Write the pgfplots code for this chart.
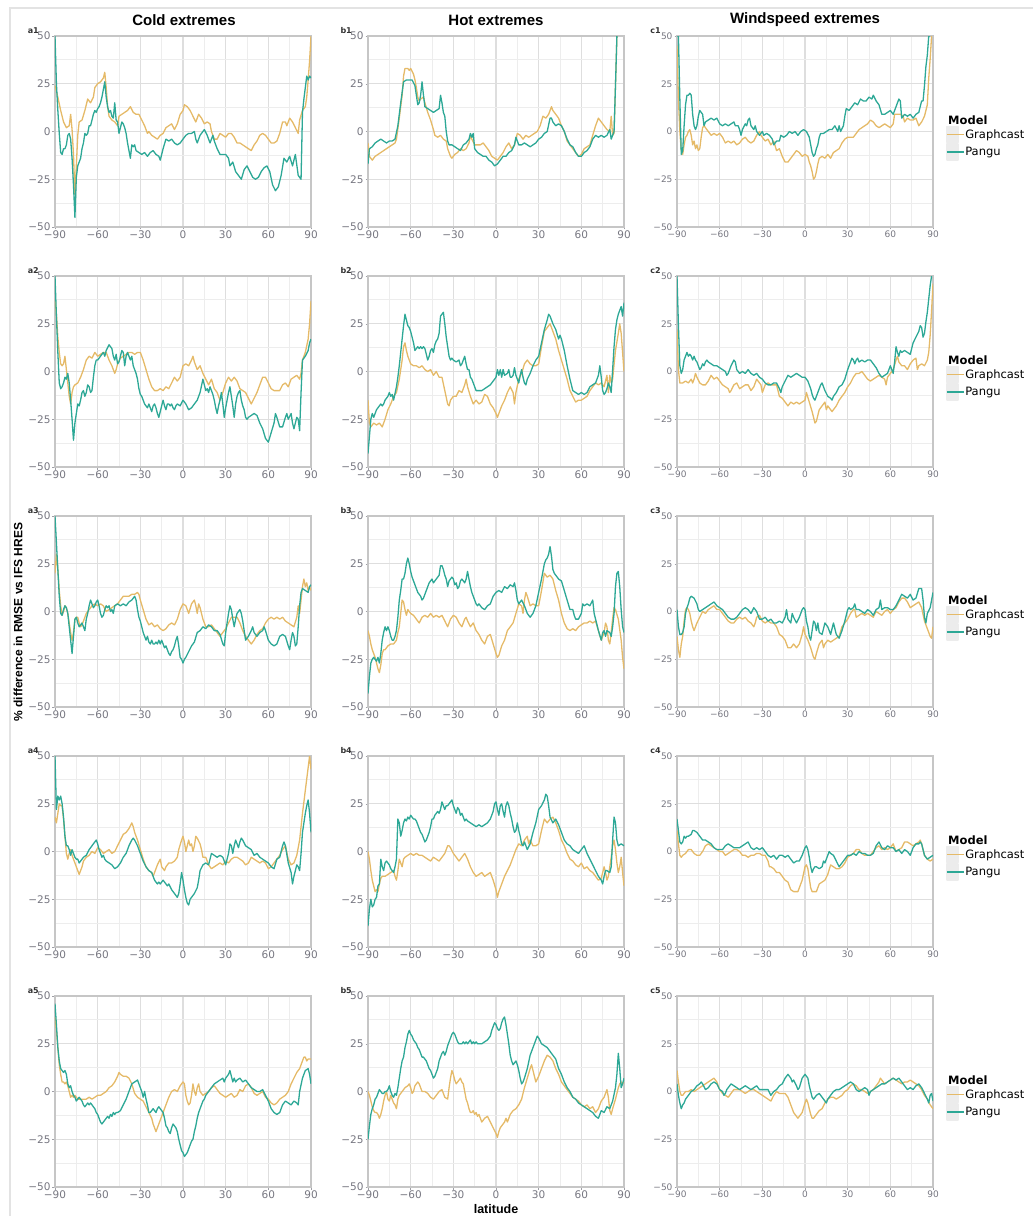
\documentclass[border=0pt]{standalone}
\usepackage{fontspec}
\setmainfont{DejaVu Sans}
\newfontfamily\arial{Liberation Sans}
\usepackage{pgfplots}
\pgfplotsset{compat=1.18}

\definecolor{gc}{RGB}{229,186,104}
\definecolor{pg}{RGB}{45,168,150}
\definecolor{gridmaj}{RGB}{222,222,222}
\definecolor{gridmin}{RGB}{237,237,237}
\definecolor{framec}{RGB}{198,198,198}
\definecolor{ticklab}{RGB}{118,118,128}
\definecolor{legbox}{RGB}{236,236,236}

\tikzset{
  plab/.style={anchor=south east, xshift=-16pt, yshift=2pt, inner sep=0pt,
    text=black!80, font=\bfseries\fontsize{8}{9}\selectfont},
  modeltitle/.style={anchor=west, xshift=15pt, inner sep=0pt,
    font=\bfseries\fontsize{11.5}{12}\selectfont},
}

\pgfplotsset{
  panel/.style={
    anchor=north west, scale only axis, width=256pt, height=191pt,
    xmin=-90, xmax=90, ymin=-50, ymax=50,
    xtick={-90,-60,-30,0,30,60,90}, ytick={-50,-25,0,25,50},
    xticklabels={−90,−60,−30,0,30,60,90},
    yticklabels={−50,−25,0,25,50},
    minor xtick={-75,-45,-15,15,45,75},
    minor ytick={-37.5,-12.5,12.5,37.5},
    grid=both,
    major grid style={draw=gridmaj, line width=1.1pt},
    minor grid style={draw=gridmin, line width=0.9pt},
    axis line style={draw=framec, line width=1.3pt},
    tick pos=left, tick align=outside,
    major tick length=2.5pt, minor tick length=0pt,
    major tick style={draw=ticklab!70, line width=0.5pt},
    tick label style={text=ticklab, font=\fontsize{10.5}{11}\selectfont},
    xticklabel style={yshift=2.5pt},
    yticklabel style={xshift=1.5pt},
    clip mode=individual,
    every axis plot/.append style={line width=1.3pt, line join=round, mark=none},
  },
  colc/.style={
    tick label style={font=\fontsize{9}{10}\selectfont},
    legend style={at={(axis description cs:1,0.53)}, anchor=north west,
      xshift=13pt, draw=none, fill=none, inner sep=0pt,
      font=\fontsize{11.5}{12}\selectfont, row sep=0pt,
      nodes={inner sep=0.8pt}},
    legend cell align=left,
    legend image code/.code={
      \fill[legbox] (0pt,-8pt) rectangle (11pt,8pt);
      \draw[##1, line width=1.3pt] (0pt,0pt) -- (17pt,0pt);},
  },
  gcline/.style={color=gc},
  pgline/.style={color=pg},
}

\begin{document}
\begin{tikzpicture}
\path[use as bounding box] (0pt,0pt) rectangle (1033pt,-1216pt);
\draw[gray!22, line width=1.6pt] (10pt,-1216pt) -- (10pt,-8pt) -- (1033pt,-8pt);

\node[font=\arial\bfseries\fontsize{15}{17}\selectfont] at (184pt,-20pt) {Cold extremes};
\node[font=\arial\bfseries\fontsize{15}{17}\selectfont] at (496pt,-20pt) {Hot extremes};
\node[font=\arial\bfseries\fontsize{15}{17}\selectfont] at (805pt,-20pt) {Windspeed extremes};
\node[rotate=90, font=\arial\bfseries\fontsize{12}{14}\selectfont] at (18pt,-622pt) {\% difference in RMSE vs IFS HRES};
\node[font=\arial\bfseries\fontsize{12.5}{14}\selectfont] at (496pt,-1209pt) {latitude};

% ---------------- row 1 ----------------
\begin{axis}[panel, at={(55pt,-36pt)}]
\addplot[gcline] coordinates {(-90,24)(-88,18)(-86,11)(-84,5)(-82,2)(-80,3)(-79,9)(-78,1)(-77,-12)(-76,-33)(-75,-18)(-74,-2)(-73,5)(-71,6)(-69,11)(-67,17)(-65,15)(-63,18)(-62,23)(-60,25)(-58,26)(-56,28)(-55,31)(-54,23)(-53,13)(-52,8)(-50,6)(-48,5)(-46,3)(-45,8)(-43,9)(-41,10)(-39,11)(-37,13)(-35,10)(-33,9)(-31,9)(-29,6)(-27,3)(-25,-1)(-24,0)(-22,-2)(-20,-3)(-18,-4)(-16,-2)(-14,-1)(-12,2)(-10,3)(-8,4)(-6,1)(-4,4)(-2,9)(0,11)(1,14)(3,13)(5,11)(7,8)(9,5)(11,9)(13,7)(15,4)(17,5)(19,4)(20,0)(22,-4)(24,-4)(26,-1)(28,-2)(30,-3)(32,-1)(34,-1)(36,-3)(38,-6)(40,-6)(42,-7)(44,-8)(46,-9)(48,-10)(50,-7)(52,-5)(54,-2)(56,-1)(58,-2)(60,-4)(62,-6)(64,-6)(66,-5)(68,-1)(70,5)(72,5)(73,3)(75,7)(77,5)(79,2)(81,-1)(82,6)(84,11)(86,13)(87,18)(88,27)(89,37)(90,50)};
\addplot[pgline] coordinates {(-90,50)(-89,25)(-88,11)(-87,-1)(-86,-11)(-85,-12)(-84,-9)(-83,-9)(-82,-7)(-81,-2)(-80,-1)(-79,-4)(-78,-14)(-77,-28)(-76,-45)(-75,-24)(-74,-18)(-73,-16)(-72,-14)(-71,-9)(-70,-6)(-69,-1)(-68,-2)(-67,-1)(-66,3)(-65,3)(-64,6)(-63,9)(-62,11)(-61,10)(-60,12)(-59,13)(-58,15)(-57,18)(-56,22)(-55,26)(-54,18)(-53,13)(-52,10)(-51,11)(-50,8)(-49,7)(-48,15)(-47,6)(-46,5)(-45,-1)(-44,2)(-43,5)(-42,4)(-41,2)(-40,-1)(-39,-6)(-38,-10)(-37,-14)(-36,-7)(-35,-8)(-34,-7)(-33,-10)(-31,-11)(-29,-12)(-27,-11)(-25,-13)(-23,-11)(-21,-10)(-19,-12)(-17,-13)(-16,-15)(-14,-9)(-12,-4)(-10,-5)(-8,-4)(-6,-6)(-4,-7)(-2,-6)(0,-4)(2,-2)(4,-1)(6,-1)(8,0)(9,-4)(10,-6)(12,-2)(14,0)(15,1)(17,-2)(19,-6)(21,-2)(22,-5)(24,-9)(26,-12)(28,-12)(30,-12)(32,-14)(33,-18)(35,-16)(37,-21)(39,-23)(41,-25)(43,-20)(45,-18)(47,-21)(49,-24)(51,-25)(53,-24)(55,-21)(57,-19)(59,-18)(61,-21)(63,-28)(65,-31)(67,-29)(69,-23)(71,-14)(73,-16)(75,-13)(77,-18)(79,-12)(81,-23)(83,-25)(84,10)(85,17)(87,29)(88,27)(89,29)(90,28)};
\node[plab] at (rel axis cs:0,1) {a1};
\end{axis}

\begin{axis}[panel, at={(368pt,-36pt)}]
\addplot[gcline] coordinates {(-90,-6)(-89,-13)(-87,-15)(-85,-13)(-83,-12)(-81,-11)(-79,-10)(-77,-9)(-75,-8)(-73,-7)(-71,-6)(-70,-4)(-68,7)(-66,19)(-65,29)(-64,33)(-62,33)(-61,32)(-60,33)(-58,30)(-57,27)(-56,23)(-55,18)(-54,16)(-53,17)(-51,18)(-50,15)(-48,10)(-46,6)(-44,1)(-43,-2)(-41,-3)(-39,-2)(-37,-4)(-35,-5)(-34,-9)(-32,-13)(-31,-14)(-29,-12)(-27,-11)(-25,-9)(-23,-10)(-21,-9)(-19,-6)(-18,-2)(-17,-4)(-15,-7)(-13,-7)(-11,-7)(-9,-6)(-7,-8)(-5,-10)(-3,-13)(-1,-14)(1,-15)(3,-13)(5,-11)(7,-8)(9,-6)(11,-9)(13,-7)(15,-1)(17,-2)(19,-4)(21,-2)(23,-3)(25,-2)(27,-1)(29,0)(31,3)(33,8)(35,7)(37,9)(39,13)(40,11)(42,9)(44,7)(46,3)(48,0)(50,-5)(52,-7)(54,-9)(56,-11)(58,-13)(60,-12)(62,-9)(64,-8)(66,-7)(68,-2)(70,3)(72,7)(74,5)(76,3)(78,1)(80,0)(81,8)(82,-2)(83,-1)(84,24)(85,50)};
\addplot[pgline] coordinates {(-90,-17)(-89,-9)(-87,-8)(-85,-6)(-83,-5)(-81,-4)(-79,-5)(-77,-6)(-75,-5)(-73,-5)(-71,-4)(-69,3)(-67,15)(-65,26)(-63,27)(-61,27)(-59,27)(-57,24)(-56,19)(-55,14)(-54,15)(-53,19)(-52,26)(-51,19)(-50,13)(-48,12)(-46,11)(-44,10)(-42,11)(-40,12)(-39,19)(-38,15)(-37,10)(-36,8)(-35,0)(-34,-5)(-33,-7)(-31,-7)(-29,-8)(-27,-9)(-25,-10)(-23,-7)(-21,-6)(-19,-4)(-18,-1)(-17,-3)(-16,-1)(-15,-9)(-13,-11)(-11,-12)(-9,-13)(-7,-13)(-5,-15)(-3,-16)(-1,-18)(1,-17)(3,-15)(5,-13)(7,-13)(9,-11)(11,-10)(13,-7)(14,-3)(16,-7)(18,-7)(20,-6)(22,-7)(24,-8)(26,-7)(28,-6)(30,-4)(32,-3)(34,-1)(36,0)(38,7)(39,7)(40,5)(42,3)(44,4)(46,3)(48,0)(50,-4)(52,-7)(54,-8)(56,-11)(58,-13)(60,-13)(62,-11)(64,-10)(66,-8)(68,-4)(70,-2)(72,-3)(74,-2)(76,-3)(78,-2)(80,1)(81,-4)(82,-2)(83,0)(84,24)(85,50)};
\node[plab] at (rel axis cs:0,1) {b1};
\end{axis}

\begin{axis}[panel, colc, at={(677pt,-36pt)}]
\addplot[gcline] coordinates {(-90,45)(-89,17)(-88,0)(-87,-10)(-86,-12)(-85,-7)(-84,-3)(-83,-2)(-82,0)(-81,1)(-80,-2)(-79,-7)(-78,-5)(-77,-9)(-76,-7)(-75,-10)(-74,-9)(-73,-3)(-72,2)(-71,3)(-70,2)(-68,0)(-66,-2)(-64,-1)(-62,-2)(-60,-1)(-58,-3)(-56,-6)(-54,-5)(-52,-6)(-50,-5)(-48,-7)(-46,-6)(-44,-4)(-42,-3)(-40,-5)(-38,-6)(-36,-5)(-34,-2)(-32,0)(-31,-2)(-30,-3)(-28,-5)(-26,-4)(-24,-7)(-22,-5)(-20,-10)(-18,-9)(-16,-13)(-14,-16)(-12,-16)(-10,-14)(-8,-12)(-6,-10)(-4,-11)(-2,-13)(0,-12)(2,-13)(3,-16)(4,-18)(5,-21)(6,-25)(7,-24)(8,-21)(9,-17)(10,-14)(12,-13)(14,-14)(16,-12)(18,-14)(20,-11)(22,-10)(24,-9)(26,-6)(28,-4)(30,-3)(32,-3)(34,-3)(36,-1)(38,1)(40,2)(42,3)(44,4)(46,6)(48,5)(50,3)(52,2)(54,3)(56,4)(58,3)(60,2)(62,4)(63,9)(65,9)(67,9)(69,8)(70,5)(72,7)(74,6)(76,6)(78,7)(80,3)(82,5)(84,8)(86,14)(87,28)(88,38)(89,50)};
\addlegendentry{Graphcast}
\addplot[pgline] coordinates {(-90,50)(-89,50)(-88,17)(-87,-12)(-86,-10)(-85,3)(-84,14)(-83,19)(-82,19)(-81,20)(-80,19)(-79,9)(-78,3)(-77,1)(-76,3)(-75,8)(-74,11)(-73,10)(-72,9)(-71,3)(-70,5)(-68,6)(-66,7)(-64,6)(-62,7)(-60,4)(-58,3)(-56,4)(-54,3)(-52,4)(-50,5)(-49,3)(-47,3)(-46,1)(-45,-2)(-44,1)(-42,4)(-41,3)(-40,6)(-39,7)(-38,3)(-36,1)(-35,3)(-34,0)(-32,-2)(-30,0)(-29,-2)(-27,-1)(-25,-2)(-23,-4)(-22,-7)(-20,-5)(-18,-5)(-17,-2)(-15,-3)(-13,-2)(-11,0)(-9,-1)(-7,0)(-5,-2)(-3,0)(-1,1)(1,0)(3,-3)(4,-7)(5,-11)(6,-13)(7,-12)(8,-9)(9,-7)(10,-3)(11,-1)(13,-1)(15,0)(17,1)(19,1)(21,3)(23,0)(24,3)(25,0)(27,3)(28,8)(29,12)(31,11)(33,13)(35,15)(37,14)(39,17)(41,16)(43,16)(45,18)(47,17)(48,19)(50,16)(52,14)(54,9)(56,9)(58,10)(60,11)(62,9)(64,13)(66,17)(67,16)(68,7)(70,9)(72,8)(74,9)(76,7)(78,9)(80,10)(82,16)(83,16)(84,24)(85,34)(86,40)(87,50)(88,50)};
\addlegendentry{Pangu}
\node[plab] at (rel axis cs:0,1) {c1};
\node[modeltitle] at (axis description cs:1,0.56) {Model};
\end{axis}

% ---------------- row 2 ----------------
\begin{axis}[panel, at={(55pt,-276pt)}]
\addplot[gcline] coordinates {(-90,38)(-89,30)(-88,18)(-87,10)(-86,4)(-85,3)(-84,4)(-83,8)(-82,1)(-81,-6)(-80,-13)(-79,-17)(-78,-11)(-77,-8)(-76,-7)(-74,-6)(-72,-3)(-70,1)(-68,6)(-66,8)(-64,7)(-62,10)(-60,8)(-58,9)(-56,10)(-54,10)(-52,6)(-50,3)(-48,-1)(-47,1)(-46,4)(-44,7)(-42,8)(-40,9)(-38,10)(-36,10)(-34,9)(-32,10)(-30,10)(-28,6)(-26,1)(-24,-4)(-22,-8)(-20,-10)(-18,-10)(-16,-9)(-14,-10)(-12,-8)(-10,-9)(-8,-6)(-6,-3)(-4,-5)(-2,-3)(0,3)(2,4)(4,3)(6,6)(7,8)(8,5)(10,1)(12,3)(14,-1)(16,-4)(18,-7)(20,-4)(22,-9)(24,-11)(26,-15)(28,-11)(30,-6)(32,-3)(34,-5)(36,-3)(38,-5)(40,-9)(42,-10)(44,-11)(46,-14)(48,-17)(50,-14)(52,-11)(54,-7)(56,-3)(58,-3)(60,-6)(62,-9)(64,-10)(66,-10)(68,-10)(70,-7)(72,-6)(74,-8)(76,-4)(78,-3)(80,-2)(82,-4)(83,-1)(84,6)(86,10)(88,17)(89,25)(90,37)};
\addplot[pgline] coordinates {(-90,50)(-89,29)(-88,10)(-87,-6)(-86,-9)(-85,-8)(-84,-6)(-83,-3)(-82,-4)(-81,-1)(-80,-6)(-79,-15)(-78,-25)(-77,-36)(-76,-27)(-75,-22)(-74,-17)(-73,-18)(-72,-15)(-71,-11)(-70,-10)(-69,-13)(-68,-11)(-67,-7)(-66,-8)(-65,-11)(-64,-10)(-63,-3)(-62,3)(-61,6)(-60,6)(-58,8)(-56,10)(-55,8)(-54,11)(-52,14)(-50,12)(-49,8)(-48,6)(-47,9)(-46,4)(-45,5)(-44,8)(-43,11)(-42,10)(-41,3)(-40,8)(-39,10)(-38,8)(-37,6)(-36,8)(-35,3)(-34,1)(-33,-1)(-32,-4)(-31,-9)(-30,-12)(-29,-13)(-28,-15)(-27,-17)(-26,-18)(-25,-19)(-24,-17)(-23,-19)(-22,-21)(-21,-18)(-20,-17)(-19,-19)(-18,-22)(-17,-24)(-16,-21)(-15,-18)(-14,-15)(-13,-18)(-12,-20)(-11,-17)(-10,-17)(-9,-18)(-8,-17)(-7,-19)(-6,-20)(-5,-18)(-4,-17)(-2,-18)(0,-15)(2,-17)(4,-20)(6,-19)(8,-17)(10,-15)(12,-11)(14,-4)(15,-7)(16,-10)(17,-9)(18,-11)(19,-8)(20,-10)(21,-12)(22,-15)(23,-19)(24,-22)(25,-18)(26,-15)(27,-11)(28,-17)(29,-24)(30,-19)(31,-15)(32,-11)(33,-8)(34,-13)(35,-18)(36,-24)(37,-17)(38,-13)(39,-11)(40,-10)(41,-15)(42,-18)(43,-20)(44,-24)(45,-25)(46,-24)(48,-23)(50,-22)(52,-23)(54,-27)(56,-30)(58,-35)(60,-37)(62,-32)(64,-27)(65,-22)(66,-24)(68,-29)(70,-29)(72,-24)(73,-22)(74,-25)(76,-22)(77,-27)(78,-30)(79,-27)(80,-24)(81,-25)(82,-31)(83,-11)(84,6)(85,7)(86,8)(88,11)(89,15)(90,17)};
\node[plab] at (rel axis cs:0,1) {a2};
\end{axis}

\begin{axis}[panel, at={(368pt,-276pt)}]
\addplot[gcline] coordinates {(-90,-15)(-89,-27)(-88,-29)(-86,-27)(-84,-28)(-82,-27)(-80,-29)(-78,-25)(-76,-20)(-74,-17)(-72,-13)(-70,-11)(-68,-4)(-66,6)(-65,13)(-64,15)(-63,11)(-62,8)(-60,4)(-58,3)(-56,3)(-54,2)(-52,3)(-50,1)(-48,0)(-46,1)(-44,-2)(-42,0)(-40,-3)(-38,-3)(-36,-10)(-34,-17)(-33,-18)(-32,-15)(-30,-13)(-28,-13)(-26,-10)(-24,-11)(-22,-7)(-21,-4)(-20,-8)(-18,-13)(-16,-17)(-14,-15)(-12,-17)(-10,-16)(-8,-12)(-6,-13)(-4,-17)(-2,-19)(0,-22)(1,-24)(2,-22)(4,-18)(6,-15)(8,-11)(10,-8)(12,-11)(13,-17)(14,-11)(16,-4)(18,-1)(20,4)(22,6)(24,4)(26,3)(28,3)(30,4)(32,13)(34,21)(36,23)(38,25)(40,21)(42,17)(44,11)(46,6)(48,1)(50,-4)(52,-10)(54,-13)(56,-16)(58,-15)(60,-15)(62,-14)(64,-13)(66,-10)(68,-8)(70,-6)(72,-7)(74,-6)(76,-8)(78,-2)(79,-11)(80,-2)(81,-6)(82,-4)(84,11)(86,20)(87,25)(88,20)(89,10)(90,0)};
\addplot[pgline] coordinates {(-90,-43)(-89,-34)(-88,-25)(-87,-22)(-86,-24)(-85,-22)(-84,-20)(-83,-19)(-82,-18)(-81,-17)(-80,-18)(-79,-17)(-78,-15)(-76,-13)(-75,-11)(-74,-13)(-73,-12)(-72,-15)(-70,-8)(-69,-3)(-68,3)(-67,10)(-66,17)(-65,24)(-64,30)(-63,27)(-62,24)(-61,23)(-60,21)(-59,18)(-58,15)(-57,11)(-56,12)(-55,13)(-54,12)(-53,13)(-52,12)(-51,13)(-50,12)(-49,9)(-48,6)(-47,8)(-46,11)(-45,12)(-44,10)(-43,14)(-42,16)(-41,17)(-40,20)(-39,29)(-38,30)(-37,31)(-36,25)(-35,18)(-34,13)(-33,8)(-32,6)(-31,7)(-30,6)(-28,5)(-26,6)(-25,3)(-24,4)(-23,6)(-22,8)(-21,4)(-20,1)(-19,1)(-18,-3)(-17,-4)(-16,-6)(-15,-8)(-14,-10)(-12,-10)(-10,-10)(-8,-9)(-6,-8)(-4,-7)(-2,-5)(0,-3)(1,1)(2,-2)(3,1)(4,-3)(5,1)(6,-2)(8,-1)(9,1)(10,-3)(11,-3)(12,-2)(13,2)(14,-2)(15,-4)(16,-6)(17,-2)(18,1)(19,-3)(20,-6)(21,-7)(22,-4)(24,-1)(26,3)(28,6)(30,8)(32,15)(34,22)(36,27)(37,30)(38,29)(40,25)(42,22)(44,17)(45,19)(46,17)(48,11)(50,3)(52,-4)(54,-10)(56,-11)(58,-12)(60,-11)(62,-12)(64,-11)(66,-8)(68,-7)(70,-6)(72,-2)(73,3)(74,-3)(75,-10)(76,-12)(77,-11)(78,-9)(79,-6)(80,-8)(81,-11)(82,1)(83,13)(84,22)(85,27)(86,30)(87,32)(88,34)(89,29)(90,36)};
\node[plab] at (rel axis cs:0,1) {b2};
\end{axis}

\begin{axis}[panel, colc, at={(677pt,-276pt)}]
\addplot[gcline] coordinates {(-90,22)(-89,1)(-88,-6)(-86,-6)(-84,-5)(-82,-6)(-80,-4)(-79,-6)(-78,-4)(-77,-1)(-76,-3)(-74,-6)(-72,-7)(-70,-7)(-68,-5)(-66,-2)(-64,-4)(-62,-3)(-60,-5)(-58,-7)(-56,-8)(-54,-9)(-53,-11)(-52,-10)(-50,-7)(-48,-6)(-46,-9)(-44,-8)(-42,-7)(-40,-7)(-38,-10)(-36,-8)(-34,-4)(-32,-6)(-31,-7)(-30,-11)(-29,-9)(-28,-7)(-26,-6)(-24,-7)(-22,-7)(-20,-7)(-18,-13)(-16,-14)(-14,-16)(-12,-18)(-10,-16)(-8,-17)(-6,-16)(-4,-17)(-2,-16)(0,-15)(1,-11)(3,-16)(5,-21)(6,-24)(7,-27)(8,-26)(9,-23)(10,-20)(12,-18)(14,-16)(15,-20)(16,-18)(18,-20)(19,-21)(20,-20)(22,-18)(24,-15)(26,-13)(28,-11)(30,-8)(32,-6)(34,-3)(36,-1)(38,-1)(40,0)(42,-2)(44,-4)(46,-5)(48,-4)(50,-3)(52,-2)(54,-3)(56,-4)(57,-7)(58,-3)(60,-1)(62,1)(64,6)(65,8)(66,5)(68,3)(70,3)(72,1)(74,4)(76,6)(78,7)(79,1)(80,3)(82,4)(84,3)(86,6)(87,10)(88,19)(89,32)(90,46)};
\addlegendentry{Graphcast}
\addplot[pgline] coordinates {(-90,50)(-89,24)(-88,3)(-87,-1)(-86,1)(-85,6)(-84,8)(-83,10)(-82,8)(-81,9)(-80,8)(-79,6)(-78,8)(-77,6)(-76,5)(-75,3)(-74,1)(-73,2)(-72,4)(-71,3)(-70,5)(-69,6)(-68,5)(-66,4)(-64,3)(-62,3)(-60,2)(-58,1)(-56,0)(-55,-2)(-54,-1)(-52,3)(-50,6)(-49,5)(-48,1)(-46,-1)(-44,0)(-42,-1)(-40,1)(-38,-1)(-36,-2)(-34,-1)(-32,-3)(-30,-4)(-28,-6)(-26,-7)(-24,-7)(-22,-6)(-20,-6)(-18,-9)(-17,-11)(-16,-8)(-14,-5)(-12,-2)(-10,-3)(-8,-2)(-6,-1)(-4,-2)(-2,-3)(0,-3)(2,-5)(3,-7)(4,-9)(5,-12)(6,-14)(7,-15)(8,-13)(9,-11)(10,-9)(11,-7)(12,-6)(13,-8)(14,-10)(16,-13)(18,-14)(19,-15)(20,-13)(22,-11)(24,-8)(26,-7)(28,-4)(30,1)(32,5)(33,7)(34,6)(35,4)(36,6)(37,7)(38,5)(40,6)(42,5)(44,6)(46,6)(48,4)(50,2)(52,-1)(54,-3)(56,-2)(58,-1)(60,3)(61,1)(62,-1)(63,5)(64,13)(65,10)(66,8)(67,11)(68,10)(70,11)(72,10)(74,9)(75,12)(76,15)(78,18)(80,21)(81,24)(82,23)(83,18)(84,20)(85,26)(86,31)(87,38)(88,45)(89,50)};
\addlegendentry{Pangu}
\node[plab] at (rel axis cs:0,1) {c2};
\node[modeltitle] at (axis description cs:1,0.56) {Model};
\end{axis}

% ---------------- row 3 ----------------
\begin{axis}[panel, at={(55pt,-516pt)}]
\addplot[gcline] coordinates {(-90,20)(-89,30)(-88,22)(-87,11)(-86,3)(-85,-2)(-84,0)(-83,3)(-82,2)(-81,-1)(-80,-6)(-79,-11)(-78,-15)(-77,-11)(-76,-4)(-75,-3)(-74,-3)(-73,-6)(-72,-8)(-71,-7)(-70,-5)(-68,-1)(-66,1)(-64,3)(-62,4)(-60,3)(-58,4)(-56,3)(-54,0)(-52,1)(-50,2)(-48,3)(-46,4)(-44,6)(-42,8)(-40,8)(-38,8)(-36,9)(-34,9)(-32,10)(-31,9)(-30,6)(-28,1)(-26,-4)(-24,-7)(-22,-6)(-20,-8)(-18,-7)(-16,-9)(-14,-10)(-12,-9)(-10,-7)(-8,-6)(-6,-7)(-4,-4)(-2,1)(0,4)(2,3)(4,-1)(6,4)(8,6)(9,3)(10,-1)(11,4)(12,2)(14,-4)(16,-8)(18,-8)(20,-7)(22,-9)(24,-11)(26,-13)(28,-11)(30,-9)(32,-6)(34,-3)(36,-3)(38,-3)(40,-6)(42,-10)(44,-13)(46,-15)(48,-17)(50,-15)(52,-12)(54,-10)(56,-9)(58,-6)(60,-4)(62,-3)(64,-4)(66,-3)(68,-4)(70,-3)(72,-5)(74,-6)(76,-7)(78,-8)(80,-3)(81,3)(82,-1)(83,6)(84,13)(85,17)(86,13)(87,15)(88,11)(89,13)(90,11)};
\addplot[pgline] coordinates {(-90,50)(-89,36)(-88,22)(-87,8)(-86,-1)(-85,-2)(-84,1)(-83,3)(-82,2)(-81,-1)(-80,-8)(-79,-15)(-78,-22)(-77,-13)(-76,-4)(-75,-3)(-74,-6)(-73,-8)(-72,-7)(-71,-6)(-70,-8)(-69,-10)(-68,-4)(-67,-1)(-66,3)(-65,6)(-64,4)(-63,2)(-62,3)(-61,5)(-60,6)(-59,3)(-58,-1)(-57,-3)(-56,-2)(-55,1)(-54,3)(-53,2)(-52,3)(-51,0)(-50,1)(-49,-1)(-48,3)(-46,4)(-44,3)(-42,4)(-40,3)(-38,5)(-36,6)(-34,8)(-33,6)(-32,1)(-31,-3)(-30,-5)(-29,-8)(-28,-11)(-27,-13)(-26,-15)(-25,-13)(-24,-16)(-23,-17)(-22,-15)(-21,-17)(-20,-17)(-19,-16)(-18,-17)(-17,-15)(-16,-17)(-15,-15)(-14,-17)(-13,-19)(-12,-18)(-11,-20)(-10,-22)(-9,-23)(-8,-21)(-7,-20)(-6,-18)(-5,-15)(-4,-13)(-3,-18)(-2,-24)(-1,-25)(0,-27)(1,-25)(2,-24)(4,-21)(6,-18)(8,-16)(10,-11)(12,-10)(14,-8)(16,-9)(18,-7)(20,-8)(22,-10)(24,-10)(26,-12)(28,-17)(29,-18)(30,-11)(32,-1)(33,3)(34,1)(35,-4)(36,-8)(37,-4)(38,-1)(40,1)(41,-1)(42,-5)(43,-10)(44,-15)(46,-13)(48,-10)(49,-8)(50,-11)(52,-13)(54,-11)(56,-10)(57,-8)(58,-10)(60,-15)(62,-17)(64,-18)(66,-17)(68,-13)(70,-12)(72,-13)(74,-18)(75,-20)(76,-15)(77,-11)(78,-13)(79,-18)(80,-17)(81,-8)(82,3)(83,10)(84,12)(86,11)(88,10)(89,13)(90,14)};
\node[plab] at (rel axis cs:0,1) {a3};
\end{axis}

\begin{axis}[panel, at={(368pt,-516pt)}]
\addplot[gcline] coordinates {(-90,-10)(-89,-13)(-88,-17)(-87,-20)(-86,-22)(-85,-24)(-84,-27)(-83,-30)(-82,-32)(-81,-28)(-80,-22)(-79,-20)(-78,-20)(-76,-18)(-74,-17)(-72,-17)(-70,-15)(-69,-11)(-68,-8)(-67,-1)(-66,6)(-65,5)(-64,1)(-63,-2)(-62,1)(-60,-1)(-58,-2)(-56,-4)(-54,-6)(-52,-3)(-50,-2)(-48,-3)(-46,-1)(-44,-3)(-42,-2)(-40,-3)(-38,-2)(-36,-5)(-34,-8)(-32,-4)(-30,-2)(-28,-3)(-26,-6)(-24,-8)(-22,-4)(-21,-3)(-20,-5)(-18,-8)(-16,-6)(-14,-10)(-12,-12)(-10,-15)(-8,-17)(-6,-13)(-4,-12)(-2,-17)(0,-22)(1,-24)(2,-23)(4,-18)(6,-15)(8,-10)(10,-8)(12,-6)(14,-1)(16,4)(18,3)(19,-1)(20,6)(21,10)(22,8)(24,3)(26,4)(28,3)(30,3)(32,11)(34,20)(36,18)(38,19)(40,17)(42,11)(44,6)(46,-1)(48,-6)(50,-9)(52,-10)(54,-9)(56,-10)(58,-8)(60,-7)(62,-6)(64,-6)(66,-5)(68,-6)(70,-5)(72,-10)(74,-15)(76,-11)(77,-6)(78,-8)(79,-15)(80,-17)(81,-11)(82,-4)(83,2)(84,1)(86,-4)(88,-15)(89,-24)(90,-30)};
\addplot[pgline] coordinates {(-90,-43)(-89,-34)(-88,-27)(-87,-25)(-86,-24)(-85,-25)(-84,-26)(-83,-24)(-82,-27)(-81,-22)(-80,-15)(-79,-11)(-78,-8)(-77,-10)(-76,-8)(-75,-10)(-74,-13)(-73,-15)(-72,-15)(-71,-13)(-70,-10)(-69,-3)(-68,6)(-67,11)(-66,17)(-65,17)(-64,20)(-63,25)(-62,28)(-61,25)(-60,21)(-59,18)(-58,16)(-57,14)(-56,12)(-55,10)(-54,9)(-53,8)(-52,6)(-51,7)(-50,9)(-49,11)(-48,13)(-47,15)(-46,16)(-45,17)(-44,15)(-43,16)(-42,17)(-41,18)(-40,19)(-39,24)(-38,24)(-37,22)(-36,19)(-35,17)(-34,13)(-33,16)(-32,17)(-31,18)(-30,17)(-29,14)(-28,15)(-27,12)(-26,13)(-25,16)(-24,17)(-23,16)(-22,15)(-21,17)(-20,21)(-19,17)(-18,13)(-17,10)(-16,8)(-15,6)(-14,4)(-13,3)(-12,4)(-11,3)(-10,2)(-8,1)(-6,3)(-4,4)(-2,8)(0,10)(2,11)(4,10)(6,13)(8,12)(10,14)(12,13)(13,15)(14,11)(15,6)(16,4)(18,6)(20,3)(22,-1)(24,-3)(26,-1)(28,3)(30,10)(32,17)(34,25)(35,27)(36,28)(37,30)(38,34)(39,29)(40,22)(41,20)(42,19)(44,17)(46,16)(48,11)(50,6)(52,1)(54,1)(55,-2)(56,-4)(58,-4)(60,-1)(61,4)(62,3)(64,4)(66,3)(68,6)(69,-1)(70,-4)(72,-10)(74,-15)(75,-11)(76,-10)(77,-13)(78,-10)(80,-11)(81,-13)(82,-8)(83,-1)(84,13)(85,20)(86,21)(87,13)(88,1)(89,-8)(90,-11)};
\node[plab] at (rel axis cs:0,1) {b3};
\end{axis}

\begin{axis}[panel, colc, at={(677pt,-516pt)}]
\addplot[gcline] coordinates {(-90,-13)(-89,-20)(-88,-24)(-87,-17)(-86,-13)(-85,-5)(-84,1)(-83,2)(-82,1)(-81,-1)(-80,-5)(-79,-8)(-78,-10)(-77,-8)(-76,-6)(-74,-3)(-72,0)(-70,-1)(-68,1)(-66,2)(-64,3)(-62,1)(-60,1)(-58,-1)(-56,-3)(-54,-5)(-52,-6)(-50,-6)(-48,-4)(-46,-3)(-44,-4)(-42,-3)(-40,-5)(-38,-6)(-36,-8)(-35,-6)(-34,-3)(-32,-2)(-30,-5)(-28,-6)(-26,-5)(-24,-6)(-22,-6)(-20,-8)(-18,-12)(-16,-13)(-14,-15)(-12,-19)(-10,-19)(-8,-17)(-6,-19)(-4,-17)(-2,-12)(-1,-8)(0,-12)(2,-15)(4,-19)(6,-24)(7,-25)(8,-22)(10,-17)(12,-15)(13,-19)(14,-17)(16,-15)(18,-16)(20,-15)(22,-14)(24,-13)(26,-8)(28,-6)(30,-4)(32,-1)(34,1)(35,1)(36,-3)(38,-2)(40,-1)(42,-2)(44,-1)(46,-2)(48,-3)(50,0)(52,-1)(54,-2)(56,0)(58,1)(60,-1)(62,1)(64,2)(66,5)(68,7)(70,7)(72,5)(74,2)(76,3)(78,4)(80,5)(82,2)(84,-5)(86,-9)(88,-13)(89,-14)(90,-8)};
\addlegendentry{Graphcast}
\addplot[pgline] coordinates {(-90,1)(-89,-8)(-88,-12)(-87,-12)(-86,-11)(-85,-8)(-84,-1)(-83,2)(-82,4)(-81,7)(-80,8)(-78,7)(-76,4)(-75,1)(-74,0)(-72,1)(-70,2)(-68,3)(-66,4)(-64,5)(-62,3)(-60,2)(-58,1)(-56,-1)(-54,-3)(-52,-4)(-50,-4)(-48,-3)(-46,-1)(-44,1)(-42,2)(-40,1)(-38,-1)(-36,2)(-34,0)(-32,-4)(-30,-4)(-28,-3)(-26,-5)(-24,-4)(-22,-6)(-20,-6)(-18,-5)(-16,-6)(-14,-3)(-13,1)(-12,-4)(-10,-6)(-9,-1)(-8,-3)(-6,-6)(-4,-3)(-2,1)(-1,2)(0,1)(1,-5)(2,-8)(3,-13)(4,-15)(5,-10)(6,-5)(7,-6)(8,-10)(9,-6)(10,-11)(12,-12)(14,-6)(16,-8)(18,-12)(20,-6)(22,-12)(24,-14)(26,-10)(28,-5)(30,1)(31,2)(32,1)(34,2)(35,4)(36,1)(38,1)(40,0)(42,-1)(44,1)(46,0)(48,-2)(50,1)(52,2)(53,6)(54,1)(56,2)(58,2)(60,1)(62,1)(64,3)(66,6)(68,9)(70,8)(72,7)(74,9)(76,6)(78,7)(80,12)(82,12)(83,6)(84,-3)(85,-6)(86,-1)(88,2)(90,10)};
\addlegendentry{Pangu}
\node[plab] at (rel axis cs:0,1) {c3};
\node[modeltitle] at (axis description cs:1,0.56) {Model};
\end{axis}

% ---------------- row 4 ----------------
\begin{axis}[panel, at={(55pt,-756pt)}]
\addplot[gcline] coordinates {(-90,18)(-89,15)(-88,20)(-87,25)(-86,24)(-85,24)(-84,17)(-83,8)(-82,-1)(-81,-4)(-80,-1)(-79,1)(-78,-2)(-77,-4)(-76,-6)(-75,-8)(-74,-10)(-73,-12)(-72,-10)(-71,-8)(-70,-5)(-68,-3)(-66,-2)(-64,0)(-62,-1)(-60,2)(-58,1)(-56,-1)(-54,0)(-52,1)(-50,-1)(-48,0)(-46,3)(-44,6)(-42,9)(-40,10)(-38,12)(-36,15)(-35,13)(-34,10)(-32,6)(-30,1)(-28,-4)(-26,-8)(-24,-10)(-22,-11)(-21,-13)(-20,-11)(-18,-7)(-16,-4)(-15,-8)(-14,-9)(-13,-10)(-12,-8)(-10,-6)(-8,-6)(-6,-5)(-4,-3)(-3,1)(-1,6)(0,8)(1,5)(2,0)(3,3)(4,6)(5,3)(6,4)(7,0)(8,3)(9,8)(10,7)(12,4)(13,1)(14,-3)(16,-3)(18,-7)(20,-9)(22,-8)(24,-7)(26,-6)(28,-7)(30,-5)(32,-6)(34,-4)(36,-3)(38,-3)(40,-4)(42,-5)(44,-7)(46,-6)(48,-3)(50,-4)(52,-5)(54,-6)(56,-5)(58,-6)(60,-9)(62,-8)(64,-6)(66,-4)(68,-2)(70,1)(72,3)(74,-4)(76,-7)(78,-6)(80,-2)(82,6)(84,20)(86,32)(88,44)(89,50)(90,43)};
\addplot[pgline] coordinates {(-90,50)(-89,22)(-88,29)(-87,27)(-86,29)(-85,25)(-84,18)(-83,8)(-82,3)(-81,3)(-80,1)(-79,-2)(-78,1)(-77,-1)(-76,-3)(-75,-4)(-74,-4)(-73,-6)(-72,-5)(-70,-3)(-68,-2)(-66,1)(-64,3)(-62,5)(-61,6)(-60,4)(-59,1)(-58,-1)(-57,-3)(-56,-2)(-55,-4)(-54,-5)(-52,-6)(-50,-7)(-48,-9)(-46,-8)(-44,-6)(-42,-3)(-40,-1)(-38,3)(-36,6)(-35,7)(-34,6)(-32,3)(-30,-1)(-28,-5)(-26,-8)(-24,-10)(-22,-11)(-20,-15)(-18,-17)(-17,-16)(-16,-17)(-14,-15)(-12,-17)(-11,-18)(-10,-17)(-8,-20)(-6,-22)(-4,-24)(-3,-22)(-2,-17)(-1,-11)(0,-15)(1,-20)(2,-24)(3,-27)(4,-28)(5,-25)(6,-24)(8,-22)(10,-19)(11,-15)(12,-10)(14,-7)(16,-6)(18,-7)(20,-1)(22,-2)(24,-3)(26,-2)(28,-3)(30,-7)(32,-1)(33,4)(34,3)(35,-1)(36,3)(37,6)(38,4)(39,2)(40,5)(41,7)(42,6)(44,3)(46,2)(48,1)(50,-2)(52,-1)(54,-3)(56,-4)(58,-5)(60,-6)(62,-8)(64,-9)(66,-4)(68,-3)(70,3)(71,5)(72,3)(74,-6)(76,-11)(77,-17)(78,-13)(79,-10)(80,-7)(81,-8)(82,-10)(83,-1)(84,10)(86,20)(87,24)(88,27)(89,20)(90,10)};
\node[plab] at (rel axis cs:0,1) {a4};
\end{axis}

\begin{axis}[panel, at={(368pt,-756pt)}]
\addplot[gcline] coordinates {(-90,0)(-89,-4)(-88,-10)(-87,-15)(-86,-18)(-85,-21)(-84,-20)(-83,-21)(-82,-17)(-81,-14)(-80,-13)(-78,-13)(-76,-12)(-74,-11)(-72,-10)(-71,-13)(-70,-15)(-69,-10)(-68,-4)(-67,-6)(-66,-8)(-65,-4)(-64,-3)(-62,-2)(-60,-1)(-58,-2)(-56,-1)(-54,-2)(-52,-2)(-50,-3)(-48,-4)(-46,-5)(-44,-3)(-42,-4)(-40,-5)(-38,-3)(-36,-1)(-34,3)(-33,3)(-32,2)(-30,-1)(-28,-3)(-26,-5)(-24,-3)(-22,-1)(-20,-4)(-18,-8)(-16,-11)(-14,-13)(-12,-12)(-10,-11)(-8,-13)(-6,-12)(-4,-11)(-2,-15)(0,-20)(1,-24)(2,-21)(4,-17)(6,-13)(8,-10)(10,-7)(12,-3)(14,1)(16,4)(18,3)(20,6)(22,8)(23,4)(24,6)(26,3)(28,3)(30,4)(32,11)(34,17)(36,15)(38,17)(40,18)(42,15)(44,11)(46,6)(48,3)(50,-1)(52,-4)(54,-5)(56,-7)(58,-8)(60,-6)(62,-9)(64,-8)(66,-10)(68,-11)(70,-13)(72,-15)(74,-14)(75,-11)(76,-8)(77,-11)(78,-15)(79,-13)(80,-8)(81,-3)(82,3)(83,6)(84,1)(85,-6)(86,-11)(87,-8)(88,-3)(89,-11)(90,-18)};
\addplot[pgline] coordinates {(-90,-39)(-89,-30)(-88,-25)(-87,-29)(-86,-28)(-85,-25)(-84,-24)(-83,-18)(-82,-17)(-81,-4)(-80,-8)(-79,-10)(-78,-6)(-77,-5)(-76,-6)(-75,-7)(-74,-9)(-73,-10)(-72,-11)(-71,-8)(-70,-4)(-69,17)(-68,15)(-67,8)(-66,11)(-65,15)(-64,17)(-63,16)(-62,18)(-61,17)(-60,19)(-59,18)(-58,17)(-57,17)(-56,16)(-55,14)(-54,12)(-53,10)(-52,9)(-51,7)(-50,5)(-49,6)(-48,8)(-47,10)(-46,13)(-45,17)(-44,17)(-43,19)(-42,20)(-41,21)(-40,20)(-39,22)(-38,26)(-37,24)(-36,22)(-35,24)(-34,24)(-33,25)(-32,26)(-31,27)(-30,24)(-29,22)(-28,20)(-27,23)(-26,22)(-25,19)(-24,20)(-23,18)(-22,16)(-21,17)(-20,16)(-18,15)(-16,14)(-14,13)(-12,14)(-10,13)(-8,14)(-6,15)(-4,17)(-2,21)(-1,25)(0,26)(1,22)(2,19)(3,24)(4,25)(5,21)(6,18)(7,24)(8,26)(9,24)(10,20)(11,17)(12,13)(13,10)(14,11)(15,15)(16,11)(17,8)(18,4)(19,3)(20,5)(21,3)(22,1)(24,4)(26,10)(28,15)(30,22)(32,24)(34,27)(35,30)(36,29)(37,24)(38,18)(40,15)(42,17)(44,14)(46,10)(48,6)(50,4)(52,3)(54,1)(56,0)(58,-1)(60,1)(62,3)(64,-1)(66,-4)(68,-7)(70,-10)(72,-13)(74,-15)(75,-17)(76,-13)(77,-10)(78,-10)(80,-11)(81,-8)(82,6)(83,18)(84,15)(85,6)(86,3)(88,4)(90,3)};
\node[plab] at (rel axis cs:0,1) {b4};
\end{axis}

\begin{axis}[panel, colc, at={(677pt,-756pt)}]
\addplot[gcline] coordinates {(-90,11)(-89,4)(-88,-2)(-87,-3)(-86,-2)(-84,-1)(-82,1)(-80,1)(-78,-1)(-76,-2)(-74,-2)(-72,0)(-70,3)(-68,4)(-66,3)(-64,2)(-62,1)(-60,0)(-58,0)(-56,-2)(-54,-1)(-52,0)(-50,1)(-48,1)(-46,0)(-44,-2)(-42,-2)(-40,-3)(-38,-2)(-36,-2)(-34,-1)(-32,-1)(-30,-2)(-28,-2)(-26,-5)(-25,-8)(-24,-8)(-22,-9)(-20,-11)(-18,-11)(-16,-13)(-14,-15)(-12,-16)(-10,-20)(-8,-21)(-6,-21)(-5,-21)(-4,-19)(-2,-15)(0,-8)(1,-7)(2,-9)(3,-14)(4,-19)(5,-21)(6,-21)(8,-21)(10,-17)(12,-16)(14,-15)(16,-12)(18,-7)(20,-8)(22,-9)(24,-9)(26,-8)(28,-6)(30,-3)(32,-2)(34,-1)(36,1)(38,1)(40,-1)(42,-2)(44,-2)(46,-2)(48,0)(50,2)(52,3)(54,1)(56,2)(58,1)(60,2)(62,4)(64,0)(66,1)(68,2)(70,5)(72,5)(74,4)(76,3)(78,4)(80,5)(81,6)(82,4)(84,-2)(86,-4)(88,-5)(90,-4)};
\addlegendentry{Graphcast}
\addplot[pgline] coordinates {(-90,17)(-89,11)(-88,5)(-87,4)(-86,5)(-85,8)(-84,7)(-83,8)(-82,8)(-80,9)(-79,11)(-78,11)(-76,10)(-74,8)(-72,6)(-70,6)(-68,5)(-66,4)(-64,2)(-62,1)(-60,1)(-58,1)(-56,3)(-54,4)(-52,3)(-50,2)(-48,2)(-46,2)(-44,3)(-42,4)(-40,5)(-38,2)(-36,1)(-34,2)(-32,1)(-30,2)(-28,0)(-26,-2)(-24,-3)(-22,-2)(-20,-4)(-18,-2)(-16,-2)(-14,-3)(-12,-2)(-10,-4)(-8,-6)(-6,-5)(-4,-5)(-2,-2)(0,2)(1,3)(2,1)(3,-3)(4,-8)(5,-11)(6,-9)(7,-8)(8,-8)(10,-9)(12,-8)(13,-5)(14,-6)(16,-2)(17,0)(18,-1)(20,-2)(22,-5)(24,-8)(26,-6)(28,-4)(30,-2)(32,-2)(34,-1)(36,-2)(38,0)(40,-1)(42,-1)(44,-2)(46,-2)(48,-1)(50,3)(52,5)(54,2)(56,1)(58,3)(60,2)(62,2)(64,0)(66,1)(68,-1)(70,1)(72,0)(74,-2)(76,2)(78,4)(80,4)(81,5)(82,4)(84,-2)(86,-4)(88,-3)(90,-2)};
\addlegendentry{Pangu}
\node[plab] at (rel axis cs:0,1) {c4};
\node[modeltitle] at (axis description cs:1,0.56) {Model};
\end{axis}

% ---------------- row 5 ----------------
\begin{axis}[panel, at={(55pt,-996pt)}]
\addplot[gcline] coordinates {(-90,39)(-89,32)(-88,23)(-87,14)(-86,9)(-85,5)(-84,5)(-83,4)(-82,5)(-81,3)(-80,0)(-79,-3)(-78,-2)(-77,-3)(-76,-2)(-75,-3)(-74,-4)(-72,-4)(-70,-4)(-68,-4)(-66,-3)(-64,-4)(-62,-3)(-60,-2)(-58,-2)(-56,-1)(-54,0)(-52,2)(-50,3)(-48,5)(-46,8)(-45,10)(-44,9)(-42,8)(-40,8)(-38,7)(-36,4)(-34,-1)(-32,-3)(-30,-4)(-28,-5)(-26,-8)(-24,-11)(-22,-14)(-21,-17)(-20,-19)(-19,-21)(-18,-19)(-16,-15)(-14,-11)(-12,-7)(-10,-3)(-8,0)(-6,1)(-4,0)(-2,3)(-1,4)(0,5)(1,4)(2,-2)(3,-5)(4,-7)(5,-6)(6,-2)(7,4)(8,0)(9,-2)(10,2)(11,4)(12,0)(14,-2)(16,-1)(18,0)(20,2)(22,3)(24,1)(26,-1)(28,-2)(30,-3)(32,-2)(34,-1)(36,-3)(38,-2)(40,1)(42,0)(44,3)(46,4)(48,2)(50,-1)(52,-2)(54,-1)(56,0)(58,-3)(60,-4)(62,-6)(64,-7)(66,-6)(68,-4)(70,-3)(72,-2)(74,0)(76,4)(78,7)(80,10)(82,12)(84,16)(85,18)(86,18)(87,16)(88,17)(90,17)};
\addplot[pgline] coordinates {(-90,46)(-89,35)(-88,23)(-87,16)(-86,12)(-85,11)(-84,10)(-83,11)(-82,9)(-81,4)(-80,2)(-79,3)(-78,0)(-77,-2)(-76,-3)(-75,-5)(-74,-4)(-73,-3)(-72,-4)(-71,-5)(-70,-7)(-69,-8)(-68,-7)(-67,-6)(-66,-7)(-65,-6)(-64,-7)(-63,-8)(-62,-9)(-61,-11)(-60,-12)(-59,-14)(-58,-16)(-57,-17)(-56,-16)(-55,-15)(-54,-14)(-53,-13)(-52,-14)(-51,-12)(-50,-13)(-49,-11)(-48,-12)(-47,-11)(-46,-11)(-44,-10)(-42,-7)(-40,-4)(-38,0)(-36,4)(-34,5)(-32,6)(-31,4)(-30,2)(-29,0)(-28,-3)(-27,0)(-26,-4)(-25,-7)(-24,-11)(-23,-11)(-22,-10)(-21,-9)(-20,-10)(-19,-11)(-18,-9)(-17,-8)(-16,-9)(-15,-10)(-14,-11)(-13,-14)(-12,-18)(-11,-19)(-10,-21)(-9,-22)(-8,-19)(-7,-17)(-6,-18)(-5,-19)(-4,-21)(-3,-25)(-2,-28)(-1,-31)(0,-32)(1,-34)(2,-33)(3,-32)(4,-30)(5,-28)(6,-26)(7,-25)(8,-21)(9,-18)(10,-14)(11,-11)(12,-9)(13,-7)(14,-5)(15,-4)(16,-2)(18,0)(20,2)(22,4)(24,5)(26,6)(28,7)(29,5)(30,7)(32,9)(33,11)(34,8)(35,5)(36,7)(37,5)(38,6)(40,7)(42,5)(44,6)(46,4)(48,2)(50,1)(52,0)(54,0)(56,1)(58,-2)(60,-5)(62,-9)(64,-11)(66,-12)(68,-11)(70,-7)(72,-5)(74,-6)(76,-7)(78,-5)(80,-6)(81,-7)(82,0)(84,7)(86,11)(88,12)(89,9)(90,4)};
\node[plab] at (rel axis cs:0,1) {a5};
\end{axis}

\begin{axis}[panel, at={(368pt,-996pt)}]
\addplot[gcline] coordinates {(-90,0)(-89,-2)(-88,-5)(-87,-8)(-86,-10)(-85,-11)(-84,-11)(-83,-12)(-82,-14)(-81,-12)(-80,-9)(-79,-5)(-78,-2)(-77,0)(-76,-4)(-75,-5)(-74,-2)(-73,-4)(-72,-6)(-71,-7)(-70,-9)(-69,-4)(-68,-2)(-66,0)(-64,2)(-62,3)(-61,4)(-60,2)(-59,-1)(-58,0)(-57,3)(-56,4)(-55,5)(-54,4)(-52,0)(-50,0)(-48,-1)(-46,-3)(-44,-4)(-42,-2)(-40,0)(-38,1)(-36,-3)(-34,-4)(-33,2)(-32,7)(-31,11)(-30,9)(-29,6)(-28,4)(-27,5)(-26,6)(-25,7)(-24,5)(-23,4)(-22,0)(-21,-4)(-20,-6)(-19,-9)(-18,-11)(-17,-11)(-16,-10)(-15,-12)(-14,-11)(-13,-13)(-12,-12)(-11,-14)(-10,-16)(-9,-15)(-8,-14)(-6,-13)(-4,-16)(-2,-19)(0,-22)(1,-24)(2,-21)(3,-19)(4,-18)(6,-16)(7,-14)(8,-16)(10,-12)(12,-10)(14,-9)(16,-7)(18,-4)(20,2)(22,7)(24,12)(25,14)(26,11)(28,5)(30,8)(32,12)(34,16)(36,19)(38,18)(40,16)(42,12)(44,9)(46,5)(48,3)(50,1)(52,-1)(54,-3)(56,-4)(58,-5)(60,-7)(62,-8)(64,-7)(66,-9)(68,-8)(70,-11)(72,-9)(74,-5)(76,-3)(78,1)(79,-3)(80,-10)(81,-12)(82,-9)(84,-4)(86,2)(87,4)(88,5)(89,4)(90,5)};
\addplot[pgline] coordinates {(-90,-25)(-89,-18)(-88,-12)(-87,-9)(-86,-7)(-85,-4)(-84,-3)(-83,-1)(-82,1)(-81,0)(-80,-1)(-79,-1)(-78,0)(-77,0)(-76,1)(-75,3)(-74,0)(-73,-2)(-72,-3)(-71,-1)(-70,-2)(-69,2)(-68,7)(-67,12)(-66,16)(-65,18)(-64,23)(-63,26)(-62,30)(-61,32)(-60,30)(-59,29)(-58,27)(-57,26)(-56,25)(-55,23)(-54,22)(-53,20)(-52,18)(-51,18)(-50,17)(-49,16)(-48,14)(-47,12)(-46,11)(-45,9)(-44,7)(-43,8)(-42,10)(-41,12)(-40,16)(-39,18)(-38,20)(-37,21)(-36,19)(-35,21)(-34,24)(-33,26)(-32,28)(-31,30)(-30,31)(-29,30)(-28,28)(-27,26)(-26,25)(-25,25)(-24,25)(-23,26)(-22,25)(-21,26)(-20,25)(-19,26)(-18,27)(-17,25)(-16,26)(-15,25)(-14,26)(-13,25)(-12,25)(-10,25)(-8,26)(-6,27)(-4,29)(-3,32)(-2,34)(-1,36)(0,35)(1,33)(2,32)(3,33)(4,36)(5,38)(6,39)(7,35)(8,30)(9,25)(10,19)(11,16)(12,14)(13,15)(14,16)(15,14)(16,11)(17,7)(18,4)(19,5)(20,7)(22,12)(24,19)(26,23)(28,27)(29,29)(30,28)(32,25)(34,24)(36,23)(38,21)(40,19)(42,17)(44,12)(46,9)(48,5)(50,2)(52,0)(54,-3)(56,-4)(58,-6)(60,-7)(62,-8)(64,-9)(66,-10)(68,-11)(70,-13)(72,-14)(73,-12)(74,-10)(76,-11)(78,-8)(80,-9)(82,-5)(84,2)(85,9)(86,20)(87,12)(88,2)(89,4)(90,7)};
\node[plab] at (rel axis cs:0,1) {b5};
\end{axis}

\begin{axis}[panel, colc, at={(677pt,-996pt)}]
\addplot[gcline] coordinates {(-90,11)(-89,5)(-88,0)(-87,-2)(-86,-2)(-85,-1)(-84,0)(-82,0)(-80,1)(-78,0)(-76,1)(-74,2)(-72,3)(-70,4)(-68,5)(-66,6)(-64,7)(-62,5)(-60,1)(-58,-1)(-56,-2)(-54,-3)(-52,-1)(-50,1)(-48,1)(-46,1)(-44,0)(-42,-1)(-40,0)(-38,1)(-36,1)(-34,0)(-32,-1)(-30,-2)(-28,-3)(-26,-4)(-24,-5)(-22,-2)(-20,0)(-18,-1)(-16,-1)(-14,-1)(-12,-3)(-10,-7)(-8,-11)(-6,-13)(-5,-14)(-4,-13)(-2,-11)(0,-6)(1,-4)(2,-6)(3,-9)(4,-12)(5,-14)(6,-14)(8,-12)(10,-10)(12,-9)(14,-6)(16,-4)(18,-3)(20,-3)(22,-4)(24,-3)(26,-2)(28,0)(30,1)(32,3)(34,4)(36,3)(38,1)(40,1)(42,0)(44,-1)(46,0)(48,1)(50,3)(52,5)(53,7)(54,6)(56,4)(58,5)(60,6)(62,7)(64,6)(66,5)(68,4)(70,5)(72,5)(74,6)(76,5)(78,4)(80,3)(82,1)(84,-2)(86,-4)(88,-7)(90,-9)};
\addlegendentry{Graphcast}
\addplot[pgline] coordinates {(-90,4)(-89,-2)(-88,-6)(-87,-9)(-86,-7)(-85,-6)(-84,-4)(-82,-2)(-80,0)(-78,1)(-76,3)(-74,4)(-73,5)(-72,4)(-70,1)(-68,2)(-66,4)(-64,5)(-62,4)(-60,1)(-58,0)(-57,-2)(-56,-1)(-55,1)(-54,2)(-52,4)(-50,3)(-48,2)(-46,1)(-44,2)(-42,3)(-40,2)(-38,1)(-36,2)(-34,3)(-32,1)(-30,1)(-28,1)(-26,1)(-24,-2)(-22,0)(-20,1)(-18,3)(-16,4)(-14,7)(-12,9)(-11,8)(-10,7)(-9,5)(-8,6)(-6,3)(-5,1)(-4,2)(-2,7)(0,9)(1,8)(2,7)(3,3)(4,0)(5,-3)(6,-4)(8,-2)(10,-1)(12,-3)(14,-5)(15,-6)(16,-4)(18,-2)(20,0)(22,1)(24,1)(26,2)(28,3)(30,4)(32,5)(34,4)(36,1)(38,0)(40,1)(42,2)(44,1)(45,-2)(46,0)(48,1)(50,2)(52,3)(54,4)(56,4)(58,5)(60,6)(62,7)(64,6)(66,7)(68,5)(70,3)(72,1)(74,2)(76,1)(78,3)(80,4)(82,2)(84,-1)(86,-4)(87,-6)(88,-2)(89,-1)(90,-5)};
\addlegendentry{Pangu}
\node[plab] at (rel axis cs:0,1) {c5};
\node[modeltitle] at (axis description cs:1,0.56) {Model};
\end{axis}

\end{tikzpicture}
\end{document}
